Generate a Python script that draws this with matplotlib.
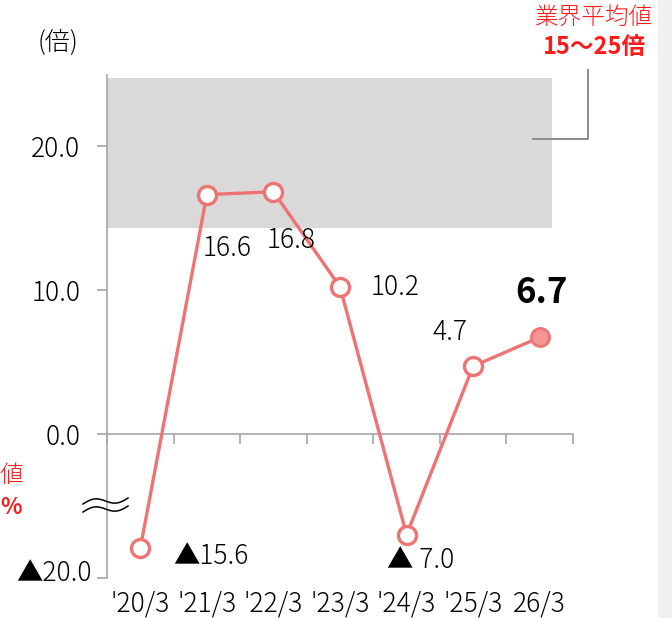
import numpy as np
import matplotlib
matplotlib.use("Agg")
import matplotlib.pyplot as plt
from matplotlib.lines import Line2D
from matplotlib.patches import Rectangle
from matplotlib.transforms import ScaledTranslation

plt.rcParams["font.family"] = ["Noto Sans CJK JP", "DejaVu Sans"]
plt.rcParams["font.weight"] = "light"

# PER (times) by fiscal year end
periods = ["'20/3", "'21/3", "'22/3", "'23/3", "'24/3", "'25/3", "26/3"]
per = [-15.6, 16.6, 16.8, 10.2, -7.0, 4.7, 6.7]
labels = ["▲15.6", "16.6", "16.8", "10.2", "▲ 7.0", "4.7", "6.7"]
band_lo, band_hi = 14.3, 24.7          # industry average range
yticks = [-20.0, 0.0, 10.0, 20.0]
ytick_labels = ["▲20.0", "0.0", "10.0", "20.0"]

W, H = 672, 618
LINE = "#ef7373"
GRID = "#a6a6a6"
FS = 19


def to_axis(v):
    # values below the axis break are squeezed into the bottom strip
    return v if v > -10 else -0.636 + 0.468 * v


def fig_xy(x, y):
    return x / W, 1 - y / H


fig = plt.figure(figsize=(W / 100, H / 100), dpi=100)
fig.add_artist(Rectangle((658 / W, 0), 1 - 658 / W, 1, transform=fig.transFigure,
                         color="#f0f0f0", zorder=0))
ax = fig.add_axes([107 / W, (H - 578) / H, (573 - 107) / W, (578 - 75) / H])
ax.set_facecolor("none")

x = np.arange(1, len(periods) + 1)
y = [to_axis(v) for v in per]

ax.set_xlim(0.5, len(periods) + 0.5)
ax.set_ylim(-10, 24.9)

ax.axhspan(band_lo, band_hi, xmin=0, xmax=(552 - 107) / (573 - 107),
           color="#d9d9d9", lw=0, zorder=0)

ax.plot(x[:-1], y[:-1], color=LINE, lw=2.4, marker="o", ms=13, mfc="white",
        mec=LINE, mew=2.4, zorder=3)
ax.plot(x[-2:], y[-2:], color=LINE, lw=2.4, zorder=2)
ax.plot(x[-1], y[-1], marker="o", ms=13, mfc="#f59494", mec=LINE, mew=2.0,
        zorder=4)

# value labels (offsets in pixels)
offsets = [(71, -8), (20, -53), (18, -48), (55, 0), (14, -25), (-23, 34), (2, 45)]
for i, (lab, off) in enumerate(zip(labels, offsets)):
    bold = i == len(labels) - 1
    ax.annotate(lab, (x[i], y[i]), xytext=off, textcoords="offset pixels",
                ha="center", va="center", fontsize=25 if bold else FS,
                fontweight="bold" if bold else "light", color="black",
                zorder=5)

# axes
for s in ["top", "right"]:
    ax.spines[s].set_visible(False)
ax.spines["left"].set_color(GRID)
ax.spines["left"].set_linewidth(1.2)
ax.spines["bottom"].set_position(("data", 0))
ax.spines["bottom"].set_color(GRID)
ax.spines["bottom"].set_linewidth(1.2)

ax.set_yticks([to_axis(v) for v in yticks])
ax.set_yticklabels(ytick_labels)
ax.tick_params(axis="y", length=7.2, width=1.2, color=GRID, pad=12, labelsize=FS)
# the label below the break sits a little right of and above its tick
low = ax.get_yticklabels()[0]
low.set_transform(low.get_transform()
                  + ScaledTranslation(11 / 100, 8 / 100, fig.dpi_scale_trans))

ax.set_xticks([])
ax.set_xticks(np.arange(0.5, len(periods) + 1), minor=True)
ax.tick_params(axis="x", which="minor", length=7.2, width=1.2, color=GRID,
               direction="out")

sec = ax.secondary_xaxis(0)
sec.set_xticks(x)
sec.set_xticklabels(periods)
sec.tick_params(length=0, pad=8, labelsize=FS)
sec.spines["bottom"].set_visible(False)

# axis break mark
t = np.linspace(0, 1, 60)
for dy in (-4, 4):
    bx = 83 + 45 * t
    by = 505 + dy - 3.5 * np.sin(2 * np.pi * t) - 6 * (t - 0.5)
    fig.add_artist(Line2D(bx / W, 1 - by / H, transform=fig.transFigure,
                          color="black", lw=1.1))

# leader line from the band to its note
lx = np.array([533, 588, 588])
ly = np.array([139, 139, 70])
fig.add_artist(Line2D(lx / W, 1 - ly / H, transform=fig.transFigure,
                      color="#8c8c8c", lw=1.4))

fig.text(*fig_xy(58, 42), "(倍)", ha="center", va="center", fontsize=18)
fig.text(*fig_xy(594, 17), "業界平均値", ha="center", va="center",
         fontsize=17, color="#ff1a1a")
fig.text(*fig_xy(594, 47), "15～25倍", ha="center", va="center",
         fontsize=17, fontweight="bold", color="#ff1a1a")
fig.text(*fig_xy(0, 475), "値", ha="left", va="center", fontsize=17,
         color="#ff1a1a")
fig.text(*fig_xy(0, 507), "%", ha="left", va="center", fontsize=16,
         fontweight="bold", color="#ff1a1a")

fig.savefig("out.png", dpi=100)
